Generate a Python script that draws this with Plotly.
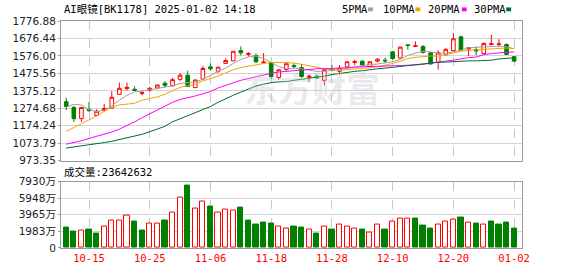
import plotly.graph_objects as go

# ---------------- data ----------------
dates = [
    "2024-10-10", "2024-10-11", "2024-10-14", "2024-10-15", "2024-10-16", "2024-10-17", "2024-10-18",
    "2024-10-21", "2024-10-22", "2024-10-23", "2024-10-24", "2024-10-25", "2024-10-28", "2024-10-29",
    "2024-10-30", "2024-10-31", "2024-11-01", "2024-11-04", "2024-11-05", "2024-11-06", "2024-11-07",
    "2024-11-08", "2024-11-11", "2024-11-12", "2024-11-13", "2024-11-14", "2024-11-15", "2024-11-18",
    "2024-11-19", "2024-11-20", "2024-11-21", "2024-11-22", "2024-11-25", "2024-11-26", "2024-11-27",
    "2024-11-28", "2024-11-29", "2024-12-02", "2024-12-03", "2024-12-04", "2024-12-05", "2024-12-06",
    "2024-12-09", "2024-12-10", "2024-12-11", "2024-12-12", "2024-12-13", "2024-12-16", "2024-12-17",
    "2024-12-18", "2024-12-19", "2024-12-20", "2024-12-23", "2024-12-24", "2024-12-25", "2024-12-26",
    "2024-12-27", "2024-12-30", "2024-12-31", "2025-01-02",
]
tick_dates = ["2024-10-15", "2024-10-25", "2024-11-06", "2024-11-18", "2024-11-28",
              "2024-12-10", "2024-12-20", "2025-01-02"]
tick_text = ["10-15", "10-25", "11-06", "11-18", "11-28", "12-10", "12-20", "01-02"]

open_ = [1312.6, 1279.6, 1215.3, 1268.5, 1233.6, 1263.0, 1275.9, 1354.9, 1388.0, 1384.3,
         1360.4, 1378.8, 1391.6, 1419.2, 1404.5, 1441.3, 1465.1, 1393.5, 1443.1, 1512.9,
         1487.2, 1533.1, 1547.8, 1606.6, 1584.6, 1577.2, 1536.8, 1536.8, 1452.3, 1498.2,
         1520.3, 1509.2, 1453.0, 1459.6, 1435.7, 1500.0, 1487.2, 1513.0, 1538.6, 1546.0,
         1514.8, 1546.0, 1551.5, 1599.3, 1564.4, 1639.7, 1630.5, 1630.5, 1593.8, 1538.6,
         1582.7, 1606.6, 1685.6, 1615.8, 1612.1, 1590.1, 1641.5, 1642.0, 1641.5, 1571.7]
high = [1334.7, 1288.7, 1279.6, 1310.8, 1268.5, 1299.8, 1373.3, 1422.9, 1422.9, 1400.8,
        1373.3, 1397.2, 1410.0, 1430.2, 1450.4, 1478.0, 1490.8, 1439.0, 1518.4, 1533.1,
        1514.8, 1560.7, 1604.0, 1630.5, 1597.4, 1590.1, 1591.9, 1538.0, 1497.5, 1540.5,
        1533.1, 1529.4, 1468.8, 1468.8, 1501.9, 1523.9, 1523.9, 1544.0, 1553.3, 1549.7,
        1544.0, 1562.5, 1566.2, 1604.8, 1628.0, 1643.4, 1659.9, 1637.8, 1597.4, 1608.5,
        1619.5, 1707.7, 1693.0, 1625.0, 1630.5, 1652.6, 1698.5, 1672.8, 1647.0, 1575.4]
low = [1264.9, 1196.9, 1196.9, 1255.7, 1230.0, 1252.0, 1274.0, 1354.0, 1376.9, 1373.3,
       1349.4, 1367.7, 1384.3, 1395.3, 1400.8, 1432.1, 1399.0, 1391.6, 1441.3, 1490.8,
       1478.0, 1531.3, 1546.0, 1579.1, 1571.7, 1535.0, 1533.1, 1444.9, 1439.4, 1490.8,
       1505.6, 1451.0, 1424.7, 1444.9, 1406.3, 1487.2, 1468.8, 1505.6, 1522.1, 1514.8,
       1509.0, 1538.6, 1535.0, 1555.2, 1560.7, 1612.1, 1628.7, 1590.1, 1527.6, 1496.4,
       1579.1, 1605.0, 1607.0, 1575.4, 1579.1, 1586.4, 1637.8, 1626.8, 1582.7, 1544.1]
close = [1285.1, 1215.3, 1279.6, 1261.0, 1258.0, 1274.0, 1338.3, 1389.8, 1395.3, 1378.8,
         1364.1, 1389.8, 1409.0, 1407.0, 1439.4, 1465.1, 1400.8, 1437.6, 1503.7, 1501.9,
         1511.1, 1549.7, 1602.9, 1593.8, 1590.1, 1542.3, 1540.5, 1457.8, 1496.4, 1531.3,
         1514.8, 1457.0, 1459.0, 1448.6, 1496.4, 1494.5, 1505.6, 1542.3, 1544.0, 1523.9,
         1542.3, 1557.0, 1547.8, 1560.7, 1626.8, 1636.0, 1634.2, 1595.6, 1529.4, 1593.8,
         1614.0, 1674.6, 1610.3, 1623.2, 1604.8, 1648.0, 1646.0, 1645.0, 1584.6, 1546.0]
prev_close = 1300.0

ma5 = [1281.4, 1297.9, 1294.3, 1266.7, 1255.7, 1263.0, 1288.8, 1321.8, 1349.4, 1369.6,
       1373.3, 1380.6, 1386.1, 1393.5, 1404.5, 1417.4, 1422.9, 1426.6, 1441.3, 1465.1,
       1487.2, 1505.6, 1533.1, 1555.2, 1569.9, 1575.4, 1560.7, 1538.6, 1514.8, 1501.9,
       1505.6, 1501.9, 1492.7, 1487.2, 1487.2, 1492.7, 1496.4, 1505.6, 1512.9, 1520.3,
       1525.8, 1529.4, 1535.0, 1542.3, 1557.0, 1579.1, 1591.9, 1602.9, 1599.3, 1591.9,
       1591.9, 1601.1, 1608.5, 1623.2, 1625.0, 1625.0, 1630.5, 1632.3, 1628.0, 1618.0]
ma10 = [1141.8, 1163.8, 1184.0, 1207.9, 1230.0, 1257.5, 1281.4, 1294.3, 1299.8, 1303.4,
        1321.8, 1331.0, 1340.2, 1354.9, 1373.3, 1395.3, 1404.5, 1413.7, 1432.1, 1444.9,
        1459.6, 1478.0, 1496.4, 1509.2, 1514.8, 1523.9, 1533.1, 1538.6, 1538.6, 1536.8,
        1535.0, 1527.6, 1518.4, 1509.2, 1501.9, 1494.0, 1493.0, 1496.0, 1500.0, 1503.0,
        1508.0, 1514.0, 1521.0, 1532.0, 1546.0, 1560.7, 1568.0, 1573.5, 1575.4, 1575.4,
        1584.6, 1595.6, 1602.9, 1608.5, 1610.3, 1612.1, 1615.8, 1617.6, 1621.3, 1618.0]
ma20 = [1068.3, 1077.5, 1088.5, 1101.3, 1112.4, 1125.2, 1138.1, 1154.6, 1174.8, 1196.9,
        1220.8, 1242.8, 1264.9, 1286.9, 1309.0, 1325.5, 1334.7, 1345.7, 1358.6, 1371.0,
        1391.6, 1408.2, 1421.0, 1435.7, 1446.8, 1457.8, 1465.1, 1476.2, 1483.5, 1487.2,
        1492.7, 1496.4, 1500.1, 1501.9, 1503.0, 1503.5, 1505.0, 1507.5, 1511.0, 1515.0,
        1515.5, 1516.0, 1517.0, 1518.0, 1519.5, 1520.3, 1523.9, 1527.6, 1535.0, 1540.5,
        1546.0, 1551.5, 1560.7, 1566.2, 1569.9, 1582.7, 1590.1, 1593.8, 1595.6, 1599.0]
ma30 = [1046.2, 1051.7, 1057.2, 1062.8, 1070.1, 1077.5, 1084.8, 1094.0, 1103.2, 1114.2,
        1125.2, 1139.9, 1154.6, 1171.2, 1196.9, 1215.3, 1233.6, 1248.3, 1266.7, 1285.1,
        1309.0, 1331.0, 1349.4, 1367.8, 1386.1, 1402.7, 1413.7, 1422.9, 1426.6, 1428.5,
        1435.7, 1441.3, 1446.8, 1454.1, 1459.6, 1468.8, 1476.2, 1481.7, 1487.2, 1491.0,
        1498.2, 1501.9, 1505.6, 1511.1, 1516.6, 1522.1, 1525.8, 1531.3, 1536.8, 1540.0,
        1540.5, 1544.2, 1546.0, 1547.8, 1547.8, 1549.7, 1551.5, 1558.8, 1562.5, 1565.5]

volume_wan = [2457, 1989, 2067, 2223, 1755, 2535, 3237, 3237, 3822, 3120,
              2067, 2886, 2886, 3237, 4173, 5967, 7488, 4758, 5577, 4914,
              4173, 4641, 4524, 4797, 3276, 2808, 3042, 2925, 2574, 2301,
              2574, 2457, 2184, 1755, 2574, 2223, 2808, 2574, 2301, 2223,
              1872, 2808, 2223, 3159, 3510, 3510, 3510, 2730, 2340, 2808,
              3159, 3393, 3666, 3042, 2925, 2808, 3159, 2808, 3042, 2364]
last_volume = 23642632

price_ticks = [973.35, 1073.79, 1174.24, 1274.68, 1375.12, 1475.56, 1576.00, 1676.44, 1776.88]
price_tick_text = ["973.35", "1073.79", "1174.24", "1274.68", "1375.12", "1475.56",
                   "1576.00", "1676.44", "1776.88"]
vol_ticks = [0, 1983, 3965, 5948, 7930]
vol_tick_text = ["0", "1983万", "3965万", "5948万", "7930万"]

title_text = "AI眼镜[BK1178] 2025-01-02 14:18"
ma_names = ["5PMA", "10PMA", "20PMA", "30PMA"]

# ---------------- styles ----------------
RED = "#ff0000"
GREEN = "#008000"
MA_COLORS = ["#a0a0a0", "#f5a300", "#ff00ff", "#006b33"]
GRID = "#d4d4d4"
BORDER = "#9a9a9a"
MONO = "DejaVu Sans Mono, Noto Sans CJK SC"
SANS = "DejaVu Sans, Noto Sans CJK SC"

W, H = 578, 276
ML, MR, MT, MB = 55, 56, 21, 21
PW, PH = W - ML - MR, H - MT - MB


def px_x(x):
    return (x - ML) / PW


def px_y(y):
    return (H - MB - y) / PH


prevs = [prev_close] + close[:-1]
vol_up = [c >= p for c, p in zip(close, prevs)]
vol_fill = ["white" if u else GREEN for u in vol_up]
vol_line = [RED if u else GREEN for u in vol_up]

fig = go.Figure()

fig.add_trace(go.Candlestick(
    x=dates, open=open_, high=high, low=low, close=close,
    increasing=dict(line=dict(color=RED, width=1), fillcolor="white"),
    decreasing=dict(line=dict(color=GREEN, width=1), fillcolor=GREEN),
    whiskerwidth=0, xaxis="x", yaxis="y", showlegend=False, hoverinfo="skip",
))

for name, vals, col in zip(ma_names, [ma5, ma10, ma20, ma30], MA_COLORS):
    fig.add_trace(go.Scatter(
        x=dates, y=vals, mode="lines", name=name,
        line=dict(color=col, width=1), xaxis="x", yaxis="y",
        showlegend=False, hoverinfo="skip",
    ))

fig.add_trace(go.Bar(
    x=dates, y=volume_wan, width=0.68,
    marker=dict(color=vol_fill, line=dict(color=vol_line, width=1)),
    xaxis="x2", yaxis="y2", showlegend=False, hoverinfo="skip",
))

xr = [-0.69, 60.04]
common_x = dict(
    type="category", range=xr, showgrid=True, gridcolor="#c8c8c8", griddash="dash",
    gridwidth=1, tickvals=tick_dates, ticktext=tick_text, showline=True, mirror=True,
    linecolor=BORDER, linewidth=1, ticks="", zeroline=False, fixedrange=True,
)

fig.update_layout(
    width=W, height=H,
    margin=dict(l=ML, r=MR, t=MT, b=MB, pad=0),
    paper_bgcolor="white", plot_bgcolor="white",
    boxgap=0.32,
    bargap=0,
    xaxis=dict(common_x, domain=[0, 1], anchor="y", showticklabels=False,
               rangeslider=dict(visible=False)),
    xaxis2=dict(common_x, domain=[0, 1], anchor="y2", showticklabels=True,
                tickfont=dict(family=MONO, size=10.5, color=RED)),
    yaxis=dict(domain=[px_y(165), 1], range=[price_ticks[0], price_ticks[-1]],
               tickvals=price_ticks, ticktext=price_tick_text,
               tickfont=dict(family=SANS, size=10.5, color="#222222"),
               showgrid=True, gridcolor=GRID, gridwidth=1, showline=True, mirror=True,
               linecolor=BORDER, linewidth=1, ticks="outside", ticklen=2, tickcolor=BORDER,
               zeroline=False, fixedrange=True),
    yaxis2=dict(domain=[0, px_y(186.5)], range=[0, vol_ticks[-1]],
                tickvals=vol_ticks, ticktext=vol_tick_text,
                tickfont=dict(family=SANS, size=10.5, color="#222222"),
                showgrid=True, gridcolor=GRID, gridwidth=1, showline=True, mirror=True,
                linecolor=BORDER, linewidth=1, ticks="outside", ticklen=2, tickcolor=BORDER,
                zeroline=False, fixedrange=True),
)

annotations = [
    dict(text="东方财富", x=px_x(309), y=px_y(90), xref="paper", yref="paper",
         xanchor="center", yanchor="middle", showarrow=False,
         font=dict(family="Noto Sans CJK SC", size=34, color="rgba(200,200,212,0.4)",
                   weight=700)),
    dict(text=title_text, x=px_x(56), y=px_y(9), xref="paper", yref="paper",
         xanchor="left", yanchor="middle", showarrow=False,
         font=dict(family=MONO, size=10.5, color="#000000")),
    dict(text="成交量:%d" % last_volume, x=px_x(56), y=px_y(177), xref="paper", yref="paper",
         xanchor="left", yanchor="middle", showarrow=False,
         font=dict(family=MONO, size=10.5, color="#000000")),
]
shapes = []
legend_x = [338, 379, 425, 471]
swatch_x = [366, 414, 461, 506]
for name, col, lx, sx in zip(ma_names, MA_COLORS, legend_x, swatch_x):
    annotations.append(dict(text=name, x=px_x(lx), y=px_y(9), xref="paper", yref="paper",
                            xanchor="left", yanchor="middle", showarrow=False,
                            font=dict(family=MONO, size=10.5, color="#000000")))
    shapes.append(dict(type="rect", xref="paper", yref="paper",
                       x0=px_x(sx), x1=px_x(sx + 5), y0=px_y(11), y1=px_y(7),
                       fillcolor=col, line=dict(width=0)))

fig.update_layout(annotations=annotations, shapes=shapes)

fig.write_html("out.html")
